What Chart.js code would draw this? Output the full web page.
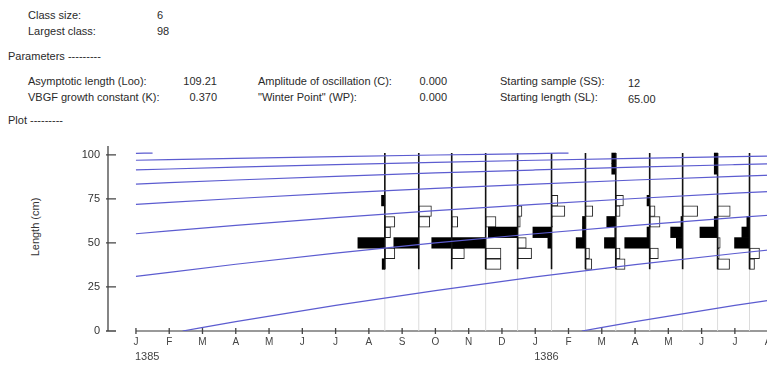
<!DOCTYPE html>
<html lang="en">
<head>
<meta charset="UTF-8">
<title>ELEFAN I - growth curves</title>
<script src="https://cdn.jsdelivr.net/npm/chart.js"></script>
<style>
  html, body { margin: 0; padding: 0; background: #fff; }
  body { width: 767px; height: 365px; overflow: hidden; position: relative;
         font-family: "Liberation Sans", Arial, sans-serif; font-size: 11px; color: #2a2a2a; }
  .t { position: absolute; white-space: nowrap; line-height: 13px; }
  #chartBox { position: absolute; left: 0; top: 130px; width: 860px; height: 235px; }
  #yTitle { position: absolute; left: 35px; top: 227px; transform: translate(-50%, -50%) rotate(-90deg);
            white-space: nowrap; font-size: 11px; color: #333; }
</style>
</head>
<body>
  <!-- header block -->
  <div class="t" style="left:28px; top:9px">Class size:</div>
  <div class="t" style="left:157px; top:9px">6</div>
  <div class="t" style="left:28px; top:25px">Largest class:</div>
  <div class="t" style="left:157px; top:25px">98</div>

  <div class="t" style="left:8px; top:50px">Parameters ---------</div>
  <div class="t" style="left:28px; top:75px">Asymptotic length (Loo):</div>
  <div class="t" style="right:550px; top:75px">109.21</div>
  <div class="t" style="left:258px; top:75px">Amplitude of oscillation (C):</div>
  <div class="t" style="right:320px; top:75px">0.000</div>
  <div class="t" style="left:500px; top:75px">Starting sample (SS):</div>
  <div class="t" style="left:628px; top:77px">12</div>

  <div class="t" style="left:28px; top:91px">VBGF growth constant (K):</div>
  <div class="t" style="right:550px; top:91px">0.370</div>
  <div class="t" style="left:258px; top:91px">"Winter Point" (WP):</div>
  <div class="t" style="right:320px; top:91px">0.000</div>
  <div class="t" style="left:500px; top:91px">Starting length (SL):</div>
  <div class="t" style="left:628px; top:93px">65.00</div>

  <div class="t" style="left:8px; top:114px">Plot ---------</div>

  <div id="yTitle">Length (cm)</div>
  <div id="chartBox"><canvas id="elefanChart"></canvas></div>

<script>
// time axis: months counted from J 1385
const monthLabels = ['J','F','M','A','M','J','J','A','S','O','N','D','J','F','M','A','M','J','J','A','S','O'];
const yearLabels = ['1385', '1386'];
const yearStartMonths = [0, 12];
const lengthTicks = [0, 25, 50, 75, 100];

// length classes (class size 6, largest class 98)
const classMids = [38, 44, 50, 56, 62, 68, 74, 80, 86, 92, 98];
const classRange = [35, 101];

// sample dates (months from J 1385)
const sampleMonths = [7.48, 8.5, 9.49, 10.51, 11.47, 12.49, 13.51, 14.42, 15.44, 16.43, 17.48, 18.44];

// restructured scores per sample, one value per class in classMids order
const sampleScores = [
  [ 0.08, -0.30,  0.81, -0.17, -0.30,  0.00,  0.10, 0, 0, 0.00, 0.00],
  [ 0.00,  0.00,  0.75,  0.00, -0.33, -0.38,  0.00, 0, 0, 0.00, 0.00],
  [ 0.00, -0.38,  0.60,  0.00, -0.18,  0.00,  0.00, 0, 0, 0.00, 0.00],
  [-0.46, -0.46,  1.02,  0.00, -0.31,  0.00,  0.00, 0, 0, 0.00, 0.00],
  [ 0.00, -0.42, -0.26,  0.88, -0.08, -0.13,  0.00, 0, 0, 0.00, 0.00],
  [ 0.00,  0.00,  0.11,  0.56, -0.03, -0.40, -0.19, 0, 0, 0.00, 0.00],
  [-0.19, -0.12,  0.28,  0.09,  0.09, -0.22,  0.00, 0, 0, 0.00, 0.00],
  [-0.28, -0.13,  0.34,  0.03,  0.27, -0.13, -0.23, 0, 0, 0.12, 0.12],
  [ 0.00, -0.26,  0.75,  0.08, -0.31, -0.16,  0.08, 0, 0, 0.00, 0.00],
  [ 0.00,  0.00,  0.19,  0.36,  0.05, -0.45,  0.00, 0, 0, 0.00, 0.00],
  [-0.36, -0.05, -0.08,  0.53,  0.10, -0.38,  0.00, 0, 0, 0.10, 0.10],
  [-0.15, -0.30,  0.45,  0.23,  0.08,  0.00,  0.00, 0, 0, 0.00, 0.00]
];

// growth curves: [month, length]
const cohort1 = [[0, 100.8], [0.5, 101.0]];
const cohort2 = [[0, 96.9], [3, 98.0], [6, 99.0], [9, 99.9], [12, 100.7], [13, 101.0]];
const cohort3 = [[0, 91.4], [3, 93.0], [6, 94.4], [9, 95.7], [12, 96.9], [15, 98.0], [18, 99.0], [21, 99.9]];
const cohort4 = [[0, 83.4], [3, 85.7], [6, 87.8], [9, 89.7], [12, 91.4], [15, 93.0], [18, 94.4], [21, 95.7]];
const cohort5 = [[0, 71.9], [3, 75.2], [6, 78.2], [9, 80.9], [12, 83.4], [15, 85.7], [18, 87.8], [21, 89.7]];
const cohort6 = [[0, 55.2], [3, 60.0], [6, 64.3], [9, 68.3], [12, 71.9], [15, 75.2], [18, 78.2], [21, 80.9]];
const cohort7 = [[0, 31.0], [3, 37.9], [6, 44.2], [9, 50.0], [12, 55.2], [15, 60.0], [18, 64.3], [21, 68.3]];
const cohort8 = [[1.4, 0], [3, 5.3], [6, 14.5], [9, 22.9], [12, 30.7], [15, 37.7], [18, 44.0], [21, 49.8]];
const cohort9 = [[13.4, 0], [15, 5.3], [18, 14.5], [21, 22.9]];
const cohorts = [cohort1, cohort2, cohort3, cohort4, cohort5, cohort6, cohort7, cohort8, cohort9];

const barScale = 1; // months of width per unit score
const fontFamily = '"Liberation Sans", Arial, sans-serif';

// build bars: positive scores black to the left, negative white to the right
const blackBars = [];
const whiteBars = [];
sampleMonths.forEach((m, i) => {
  sampleScores[i].forEach((v, j) => {
    if (v === 0) return;
    const bar = { y: classMids[j], x: [m, m - v * barScale] };
    (v > 0 ? blackBars : whiteBars).push(bar);
  });
});

const sampleLines = [];
const sampleFeet = [];
sampleMonths.forEach(m => {
  sampleLines.push({ x: m, y: classRange[0] }, { x: m, y: classRange[1] }, { x: m, y: null });
  sampleFeet.push({ x: m, y: 0 }, { x: m, y: classRange[0] }, { x: m, y: null });
});

const curveSets = cohorts.map(c => ({
  type: 'line',
  data: c.map(([x, y]) => ({ x, y })),
  borderColor: 'rgb(92, 92, 208)',
  borderWidth: 1.2,
  pointRadius: 0,
  cubicInterpolationMode: 'monotone',
  order: 0
}));

// axis lines, inward ticks and year labels
const axisDecor = {
  id: 'axisDecor',
  beforeDatasetsDraw(chart) {
    const { ctx, chartArea, scales: { x, y } } = chart;
    const y0 = y.getPixelForValue(0);
    ctx.save();
    ctx.strokeStyle = '#444';
    ctx.lineWidth = 1.3;
    ctx.beginPath();
    ctx.moveTo(chartArea.left, chartArea.top);
    ctx.lineTo(chartArea.left, y0);
    y.ticks.forEach(t => {
      const py = y.getPixelForValue(t.value);
      ctx.moveTo(chartArea.left - 2, py);
      ctx.lineTo(chartArea.left + 8, py);
    });
    ctx.stroke();

    ctx.strokeStyle = '#777';
    ctx.lineWidth = 1.4;
    ctx.beginPath();
    ctx.moveTo(x.getPixelForValue(0), y0);
    ctx.lineTo(chartArea.right, y0);
    ctx.stroke();

    ctx.strokeStyle = '#444';
    ctx.lineWidth = 1.3;
    ctx.beginPath();
    x.ticks.forEach(t => {
      const px = x.getPixelForValue(t.value);
      ctx.moveTo(px, y0 - 3);
      ctx.lineTo(px, y0 + 3);
    });
    ctx.stroke();
    ctx.restore();
  },
  afterDraw(chart) {
    const { ctx, scales: { x, y } } = chart;
    const y0 = y.getPixelForValue(0);
    ctx.save();
    ctx.fillStyle = '#444';
    ctx.font = '11px ' + fontFamily;
    ctx.textAlign = 'left';
    ctx.textBaseline = 'middle';
    yearLabels.forEach((label, i) => {
      ctx.fillText(label, x.getPixelForValue(yearStartMonths[i]) - 1, y0 + 26);
    });
    ctx.restore();
  }
};

const ctx = document.getElementById('elefanChart').getContext('2d');
new Chart(ctx, {
  type: 'line',
  data: {
    datasets: [
      ...curveSets,
      {
        type: 'line', data: sampleLines, borderColor: '#111', borderWidth: 1.6,
        pointRadius: 0, spanGaps: false, order: 1
      },
      {
        type: 'bar', indexAxis: 'y', data: blackBars, backgroundColor: '#000',
        borderWidth: 0, grouped: false, barPercentage: 1, categoryPercentage: 1, order: 2
      },
      {
        type: 'bar', indexAxis: 'y', data: whiteBars, backgroundColor: '#fff',
        borderColor: '#222', borderWidth: 1, borderSkipped: false,
        grouped: false, barPercentage: 1, categoryPercentage: 1, order: 3
      },
      {
        type: 'line', data: sampleFeet, borderColor: '#dcdcdc', borderWidth: 1,
        pointRadius: 0, spanGaps: false, order: 4
      }
    ]
  },
  options: {
    responsive: true,
    maintainAspectRatio: false,
    animation: false,
    devicePixelRatio: 1,
    layout: { padding: { top: 16, right: 8, left: 0, bottom: 0 } },
    elements: { point: { radius: 0 } },
    plugins: { legend: { display: false }, tooltip: { enabled: false } },
    scales: {
      x: {
        type: 'linear', min: -0.84, max: 21.52, offset: false,
        grid: { display: false, drawTicks: false, offset: false },
        border: { display: false },
        afterBuildTicks: s => { s.ticks = monthLabels.map((_, i) => ({ value: i })); },
        afterFit: s => { s.height = 34; },
        ticks: {
          autoSkip: false, maxRotation: 0, padding: 5, color: '#444',
          font: { size: 10, family: fontFamily },
          callback: v => monthLabels[v] ?? ''
        }
      },
      y: {
        type: 'linear', min: 0, max: 105, offset: false,
        grid: { display: false, drawTicks: false, offset: false },
        border: { display: false },
        afterBuildTicks: s => { s.ticks = lengthTicks.map(v => ({ value: v })); },
        afterFit: s => { s.width = 108; },
        ticks: { padding: 8, color: '#333', font: { size: 11, family: fontFamily } }
      }
    }
  },
  plugins: [axisDecor]
});
</script>
</body>
</html>
